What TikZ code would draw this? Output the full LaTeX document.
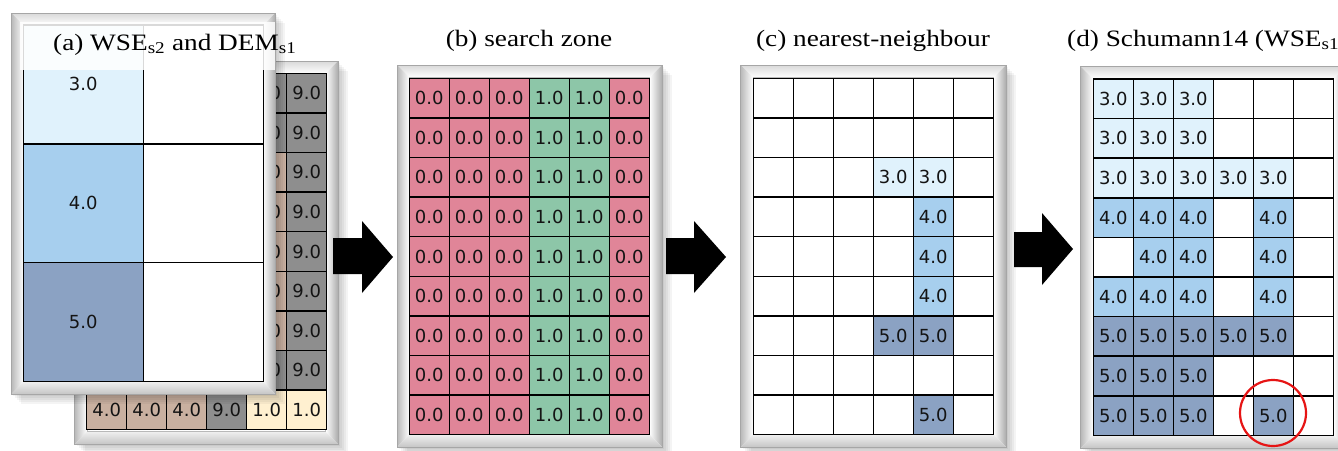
\documentclass[tikz,border=0pt]{standalone}
\usepackage{fontspec}
\newfontfamily\cellfont{DejaVu Sans}
\newfontfamily\titlefont[FakeStretch=1.16]{Liberation Serif}

\definecolor{fillA}{RGB}{224,242,252}
\definecolor{fillB}{RGB}{167,207,238}
\definecolor{fillC}{RGB}{139,162,195}
\definecolor{fillW}{RGB}{255,255,255}
\definecolor{fillP}{RGB}{224,133,152}
\definecolor{fillG}{RGB}{141,198,168}
\definecolor{fillT}{RGB}{201,176,160}
\definecolor{fillE}{RGB}{201,176,160}
\definecolor{fillD}{RGB}{142,142,142}
\definecolor{fillY}{RGB}{255,240,208}
\definecolor{circRed}{RGB}{230,20,20}

\newcommand\cellTxtA{3.0}
\newcommand\cellTxtB{4.0}
\newcommand\cellTxtC{5.0}
\newcommand\cellTxtW{}
\newcommand\cellTxtP{0.0}
\newcommand\cellTxtG{1.0}
\newcommand\cellTxtT{4.0}
\newcommand\cellTxtE{}
\newcommand\cellTxtD{9.0}
\newcommand\cellTxtY{1.0}

\tikzset{
  cell/.style={draw=black, line width=1.5pt, minimum width=40pt, minimum height=39.6pt,
    inner sep=0pt, font=\cellfont\fontsize{18}{19}\selectfont, text=black!92},
  bigcell/.style={cell, minimum width=120pt, minimum height=118.8pt},
  paneltitle/.style={font=\titlefont\fontsize{23.5}{26}\selectfont, inner sep=0pt},
  blockarrow/.style={fill=black},
  highlight/.style={draw=circRed, line width=2.2pt, circle, minimum size=66pt, inner sep=0pt},
}

% #1 prefix, #2 x0, #3 y0, #4 rows
\newcommand\cellgrid[4]{%
  \foreach \codes [count=\r] in {#4} {
    \foreach \code [count=\c] in \codes {
      \node[cell, fill=fill\code] (#1-\r-\c) at ({#2+(\c-0.5)*40}, {#3+(\r-0.5)*39.6})
        {\csname cellTxt\code\endcsname};
    }
  }
}

% bevelled picture frame: x1,y1,x2,y2 (outer)
\newcommand\bevelframe[4]{%
  \foreach \k in {2,4,6,8,10}
    \fill[black, opacity=0.045] ({#1+\k},{#2+\k}) rectangle ({#3+\k},{#4+\k});
  \fill[white] (#1,#2) rectangle (#3,#4);
  \shade[top color=gray!30, bottom color=white]
    (#1,#2) -- (#3,#2) -- ({#3-12.5},{#2+12.5}) -- ({#1+12.5},{#2+12.5}) -- cycle;
  \shade[left color=gray!55, right color=white]
    (#1,#2) -- ({#1+12.5},{#2+12.5}) -- ({#1+12.5},{#4-12.5}) -- (#1,#4) -- cycle;
  \shade[left color=white, right color=gray!65]
    (#3,#2) -- (#3,#4) -- ({#3-12.5},{#4-12.5}) -- ({#3-12.5},{#2+12.5}) -- cycle;
  \shade[top color=gray!12, bottom color=gray!45]
    (#1,#4) -- (#3,#4) -- ({#3-12.5},{#4-12.5}) -- ({#1+12.5},{#4-12.5}) -- cycle;
  \draw[gray!70, line width=0.6pt] (#1,#2) rectangle (#3,#4);
  \draw[gray!55, line width=0.8pt] ({#1+12.5},{#2+12.5}) rectangle ({#3-12.5},{#4-12.5});
}

\begin{document}
\begin{tikzpicture}[x=1pt, y=-1pt]
\clip (0,0) rectangle (1338,450);
\fill[white] (0,0) rectangle (1338,450);

% ---------- panel (a): DEM_s1 (back) ----------
\bevelframe{74.5}{61}{338}{444}
\cellgrid{dem}{86.7}{73.3}{
  {E,E,E,E,D,D},{E,E,E,E,D,D},{E,E,E,E,T,D},{E,E,E,E,T,D},{E,E,E,E,T,D},
  {E,E,E,E,T,D},{E,E,E,E,T,D},{E,E,E,E,D,D},{T,T,T,D,Y,Y}}

% ---------- panel (a): WSE_s2 (front) ----------
\bevelframe{11.3}{13}{275.3}{394}
\node[bigcell, fill=fillA] (wse-1-1) at (83.3,84.4) {3.0};
\node[bigcell, fill=fillW] (wse-1-2) at (203.3,84.4) {};
\node[bigcell, fill=fillB] (wse-2-1) at (83.3,203.2) {4.0};
\node[bigcell, fill=fillW] (wse-2-2) at (203.3,203.2) {};
\node[bigcell, fill=fillC] (wse-3-1) at (83.3,322) {5.0};
\node[bigcell, fill=fillW] (wse-3-2) at (203.3,322) {};
\fill[white, opacity=0.85] (20,22) rectangle (275,70);
\node[paneltitle, anchor=base west] (ta) at (53,50)
  {(a) WSE\textsubscript{s2} and DEM\textsubscript{s1}};

% ---------- panel (b) ----------
\bevelframe{397}{65}{662}{447}
\cellgrid{zone}{409.3}{78.3}{
  {P,P,P,G,G,P},{P,P,P,G,G,P},{P,P,P,G,G,P},{P,P,P,G,G,P},{P,P,P,G,G,P},
  {P,P,P,G,G,P},{P,P,P,G,G,P},{P,P,P,G,G,P},{P,P,P,G,G,P}}
\node[paneltitle, anchor=base] (tb) at (529,46) {(b) search zone};

% ---------- panel (c) ----------
\bevelframe{740.5}{65}{1006}{447}
\cellgrid{nn}{753.3}{78.3}{
  {W,W,W,W,W,W},{W,W,W,W,W,W},{W,W,W,A,A,W},{W,W,W,W,B,W},{W,W,W,W,B,W},
  {W,W,W,W,B,W},{W,W,W,C,C,W},{W,W,W,W,W,W},{W,W,W,W,C,W}}
\node[paneltitle, anchor=base] (tc) at (873,46) {(c) nearest-neighbour};

% ---------- panel (d) ----------
\bevelframe{1080.7}{66.5}{1346}{448}
\cellgrid{sch}{1093.3}{79}{
  {A,A,A,W,W,W},{A,A,A,W,W,W},{A,A,A,A,A,W},{B,B,B,W,B,W},{W,B,B,W,B,W},
  {B,B,B,W,B,W},{C,C,C,C,C,W},{C,C,C,W,W,W},{C,C,C,W,C,W}}
\node[paneltitle, anchor=base west] (td) at (1067,46) {(d) Schumann14 (WSE\textsubscript{s1})};
\node[highlight] (hl) at (1273,413) {};

% ---------- arrows ----------
\fill[blockarrow] (333,238) -- (362,238) -- (362,221) -- (393,257) -- (362,293) -- (362,274) -- (333,274) -- cycle;
\fill[blockarrow] (666,238) -- (694,238) -- (694,221) -- (726,257) -- (694,293) -- (694,274) -- (666,274) -- cycle;
\fill[blockarrow] (1014,232) -- (1042,232) -- (1042,213) -- (1073,249) -- (1042,285) -- (1042,267) -- (1014,267) -- cycle;
\end{tikzpicture}
\end{document}
